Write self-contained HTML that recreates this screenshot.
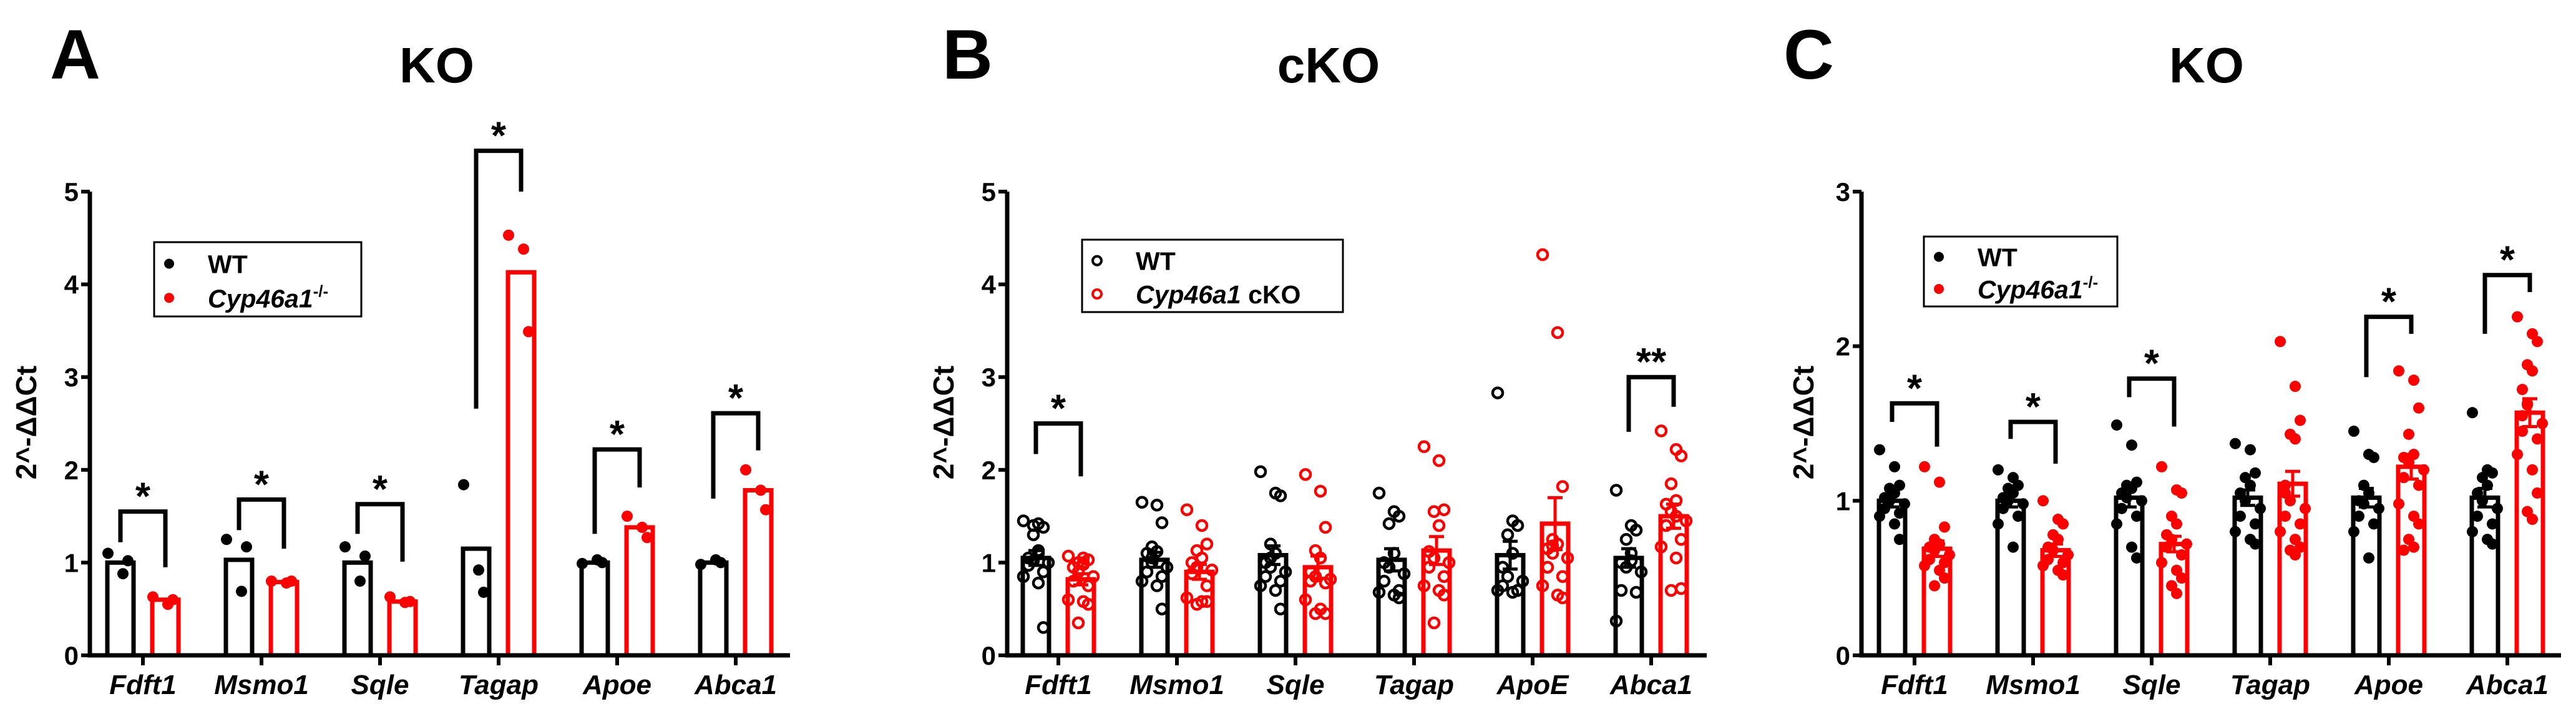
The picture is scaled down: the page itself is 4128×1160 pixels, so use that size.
<!DOCTYPE html>
<html><head><meta charset="utf-8"><style>
html,body{margin:0;padding:0;background:#fff;}
svg{display:block;font-family:"Liberation Sans",Arial,sans-serif;}
</style></head><body>
<svg id="fig" width="4128" height="1160" viewBox="0 0 4128 1160" xmlns="http://www.w3.org/2000/svg"></svg>
<script>
const genes = ["Fdft1","Msmo1","Sqle","Tagap","Apoe","Abca1"];
const genesB = ["Fdft1","Msmo1","Sqle","Tagap","ApoE","Abca1"];
// Panel A
const aWTMean = [1.0,1.03,1.0,1.15,1.0,1.0];
const aKOMean = [0.6,0.79,0.58,4.13,1.38,1.78];
const aWTPts = [[1.1,0.88,1.02],[1.25,0.69,1.17],[1.17,0.8,1.07],[1.84,0.92,0.68],[0.99,1.03,1.0],[0.98,1.03,1.0]];
const aKOPts = [[0.63,0.55,0.6],[0.8,0.78,0.8],[0.63,0.57,0.58],[4.53,4.38,3.49],[1.5,1.38,1.27],[2.0,1.78,1.57]];
const aSig = [[1.55,1.22,0.95,"*"],[1.68,1.35,1.15,"*"],[1.63,1.31,1.01,"*"],[5.44,2.66,5.0,"*"],[2.22,1.31,1.81,"*"],[2.61,1.69,2.21,"*"]];
// Panel B
const bWTMean = [1.05,1.03,1.08,1.03,1.08,1.05];
const bKOMean = [0.82,0.9,0.95,1.13,1.42,1.5];
const bWTSem = [0.08,0.08,0.1,0.12,0.15,0.1];
const bKOSem = [0.06,0.08,0.12,0.15,0.28,0.13];
const bWTPts = [[1.45,1.42,1.38,1.3,1.13,1.05,1.02,1.0,0.97,0.9,0.85,0.78,0.3,1.4,1.1],[1.65,1.62,1.43,1.17,1.12,1.1,1.0,0.95,0.9,0.85,0.8,0.75,0.5,1.05],[1.98,1.75,1.72,1.2,1.1,1.0,0.95,0.9,0.85,0.8,0.75,0.7,0.5,1.05],[1.75,1.55,1.5,1.42,1.1,1.0,0.95,0.88,0.8,0.7,0.68,0.65,0.62],[2.83,1.45,1.4,1.3,1.1,0.95,0.85,0.8,0.75,0.7,0.7,0.68,0.7],[1.78,1.4,1.35,1.25,1.1,1.0,0.95,0.9,0.7,0.68,0.37,1.02]];
const bKOPts = [[1.07,1.05,1.03,1.0,0.98,0.95,0.9,0.85,0.8,0.75,0.6,0.58,0.55,0.35,1.0],[1.57,1.4,1.2,1.13,1.05,1.0,0.95,0.92,0.88,0.75,0.62,0.58,0.58,0.55],[1.95,1.77,1.38,1.13,1.05,0.9,0.85,0.82,0.8,0.78,0.6,0.5,0.45,0.45],[2.25,2.1,1.57,1.55,1.4,1.12,1.05,1.0,0.95,0.85,0.75,0.7,0.65,0.35],[4.32,3.48,1.82,1.25,1.2,1.15,1.1,1.05,0.95,0.85,0.75,0.65,0.62,1.18],[2.42,2.22,2.15,1.85,1.67,1.63,1.55,1.45,1.4,1.25,1.17,1.05,0.72,0.7,1.5]];
const bSig = [[2.5,2.17,1.93,"*"],null,null,null,null,[3.0,2.41,2.68,"**"]];
// Panel C
const cWTMean = [1.0,1.0,1.02,1.02,1.02,1.02];
const cKOMean = [0.69,0.68,0.72,1.11,1.22,1.57];
const cWTSem = [0.04,0.04,0.06,0.05,0.06,0.06];
const cKOSem = [0.05,0.04,0.05,0.08,0.08,0.09];
const cWTPts = [[1.33,1.22,1.1,1.08,1.05,1.02,1.0,0.98,0.95,0.92,0.9,0.85,0.75],[1.2,1.15,1.1,1.08,1.05,1.02,1.0,0.98,0.95,0.9,0.85,0.7],[1.49,1.36,1.12,1.1,1.08,1.05,1.02,1.0,0.95,0.9,0.85,0.7,0.63],[1.37,1.33,1.18,1.15,1.1,1.05,1.0,0.95,0.9,0.85,0.8,0.75,0.72],[1.45,1.3,1.28,1.1,1.05,1.0,0.98,0.95,0.9,0.85,0.8,0.63],[1.57,1.2,1.18,1.15,1.1,1.05,1.0,0.95,0.9,0.85,0.8,0.75,0.72]];
const cKOPts = [[1.22,1.12,0.83,0.75,0.72,0.7,0.68,0.65,0.62,0.6,0.58,0.55,0.5,0.45],[1.0,0.88,0.85,0.78,0.75,0.7,0.68,0.65,0.62,0.6,0.58,0.55,0.52],[1.22,1.07,1.05,0.9,0.85,0.78,0.75,0.72,0.7,0.65,0.6,0.55,0.5,0.45,0.4],[2.03,1.74,1.52,1.43,1.4,1.05,1.0,0.95,0.9,0.85,0.8,0.75,0.7,0.68,0.65,1.1],[1.84,1.78,1.6,1.43,1.3,1.28,1.25,1.2,1.15,1.1,0.98,0.9,0.85,0.75,0.7,0.68],[2.19,2.08,2.03,1.88,1.84,1.72,1.62,1.5,1.45,1.4,1.3,1.2,1.05,0.93,0.88,1.55,1.63]];
const cSig = [[1.63,1.51,1.35,"*"],[1.51,1.40,1.24,"*"],[1.79,1.67,1.48,"*"],null,[2.19,1.80,2.08,"*"],[2.46,2.08,2.35,"*"]];

const NS="http://www.w3.org/2000/svg";
const svg=document.getElementById('fig');
function mk(tag,attrs,parent){const e=document.createElementNS(NS,tag);for(const k in attrs)e.setAttribute(k,attrs[k]);(parent||svg).appendChild(e);return e;}

function panel(cfg){
  const g=mk('g',{});
  
  
  const y0=1050,yTop=307;
  const ys=v=>y0-(v/cfg.max)*(y0-yTop);
  const xc=i=>cfg.x0+i*190;
  const L=mk('text',{x:cfg.letterX,y:126,'font-size':112,'font-weight':'bold'},g);L.textContent=cfg.id;
  
  
  const T=mk('text',{x:cfg.titleX,y:132,'font-size':80,'font-weight':'bold','text-anchor':'middle'},g);T.textContent=cfg.title;
  
  
  for(let i=0;i<6;i++){
    [[cfg.wtMean,cfg.wtPts,cfg.wtSem,'#000',-36],[cfg.koMean,cfg.koPts,cfg.koSem,'#f00',36]].forEach(([m,p,s,col,off],k)=>{
      const cx=xc(i)+off, top=ys(m[i]);
      const r=mk('rect',{x:cx-21,y:top,width:42,height:y0-top,fill:'#fff',stroke:col,'stroke-width':7},g);
      
      
      if(s){
        const e=mk('path',{d:`M${cx} ${ys(m[i]-s[i])}V${ys(m[i]+s[i])}M${cx-12} ${ys(m[i]+s[i])}H${cx+12}M${cx-12} ${ys(m[i]-s[i])}H${cx+12}`,stroke:col,'stroke-width':5,fill:'none'},g);
        
        
      }
      p[i].forEach((v,j)=>{
        const jit=((j*7)%5-2)*8+((j%2)?4:-4);
        const c=mk('circle',{cx:cx+jit,cy:ys(v),r:cfg.open?8:9,fill:cfg.open?'none':col,stroke:col,'stroke-width':cfg.open?4.5:0},g);
        
        
      });
    });
    const sg=cfg.sig[i];
    if(sg){
      const lx=xc(i)-36,rx=xc(i)+36,ty=ys(sg[0]);
      const b=mk('path',{d:`M${lx} ${ys(sg[1])}V${ty}H${rx}V${ys(sg[2])}`,stroke:'#000','stroke-width':7,fill:'none'},g);
      
      
      const st=mk('text',{x:xc(i),y:ty-3,'font-size':62,'font-weight':'bold','text-anchor':'middle'},g);st.textContent=sg[3];
      
      
    }
    const tk=mk('line',{x1:xc(i),x2:xc(i),y1:y0,y2:y0+16,stroke:'#000','stroke-width':6},g);
    
    
    const tl=mk('text',{x:xc(i),y:1112,'font-size':44,'font-weight':'bold','font-style':'italic','text-anchor':'middle'},g);tl.textContent=cfg.names[i];
    
    
  }
  const ax=mk('path',{d:`M${cfg.axX} ${yTop}V${y0}H${cfg.axEnd}`,stroke:'#000','stroke-width':7,fill:'none'},g);
  
  
  for(let v=0;v<=cfg.max;v++){
    const t=mk('line',{x1:cfg.axX-14,x2:cfg.axX,y1:ys(v),y2:ys(v),stroke:'#000','stroke-width':6},g);
    
    
    const tl=mk('text',{x:cfg.axX-18,y:ys(v)+15,'font-size':42,'font-weight':'bold','text-anchor':'end'},g);tl.textContent=v;
    
    
  }
  const yt=mk('text',{x:0,y:0,'font-size':46,'font-weight':'bold','text-anchor':'middle',transform:`translate(${cfg.ytX},677) rotate(-90)`},g);yt.textContent='2^-ΔΔCt';
  
  
  const lg=mk('g',{},g);
  
  
  const [lx,ly,lw,lh]=cfg.leg;
  mk('rect',{x:lx,y:ly,width:lw,height:lh,fill:'#fff',stroke:'#000','stroke-width':3},lg);
  [['#000',ly+lh*0.29],['#f00',ly+lh*0.75]].forEach(([col,yy],k)=>{
    const c=mk('circle',{cx:lx+24,cy:yy,r:cfg.open?7:8,fill:cfg.open?'none':col,stroke:col,'stroke-width':cfg.open?4:0},lg);
    
    
    const t=mk('text',{x:lx+86,y:yy+15,'font-size':41,'font-weight':'bold'},lg);
    
    
    if(k===0)t.textContent='WT';
    else{
      const a=mk('tspan',{'font-style':'italic'},t);a.textContent='Cyp46a1';
      if(cfg.open){const b=mk('tspan',{},t);b.textContent=' cKO';}
      else{const b=mk('tspan',{'font-size':26,dy:-17},t);b.textContent='-/-';}
    }
  });
}
panel({id:'A',title:'KO',letterX:80,titleX:700,x0:229,axX:144,axEnd:1266,max:5,ytX:58,names:genes,
  wtMean:aWTMean,koMean:aKOMean,wtPts:aWTPts,koPts:aKOPts,sig:aSig,open:false,leg:[247,388,332,119]});
panel({id:'B',title:'cKO',letterX:1510,titleX:2129,x0:1696,axX:1614,axEnd:2735,max:5,ytX:1528,names:genesB,
  wtMean:bWTMean,koMean:bKOMean,wtSem:bWTSem,koSem:bKOSem,wtPts:bWTPts,koPts:bKOPts,sig:bSig,open:true,leg:[1734,384,418,116]});
panel({id:'C',title:'KO',letterX:2858,titleX:3536,x0:3068,axX:2983,axEnd:4104,max:3,ytX:2906,names:genes,
  wtMean:cWTMean,koMean:cKOMean,wtSem:cWTSem,koSem:cKOSem,wtPts:cWTPts,koPts:cKOPts,sig:cSig,open:false,leg:[3083,379,310,112]});
</script>
</body></html>
